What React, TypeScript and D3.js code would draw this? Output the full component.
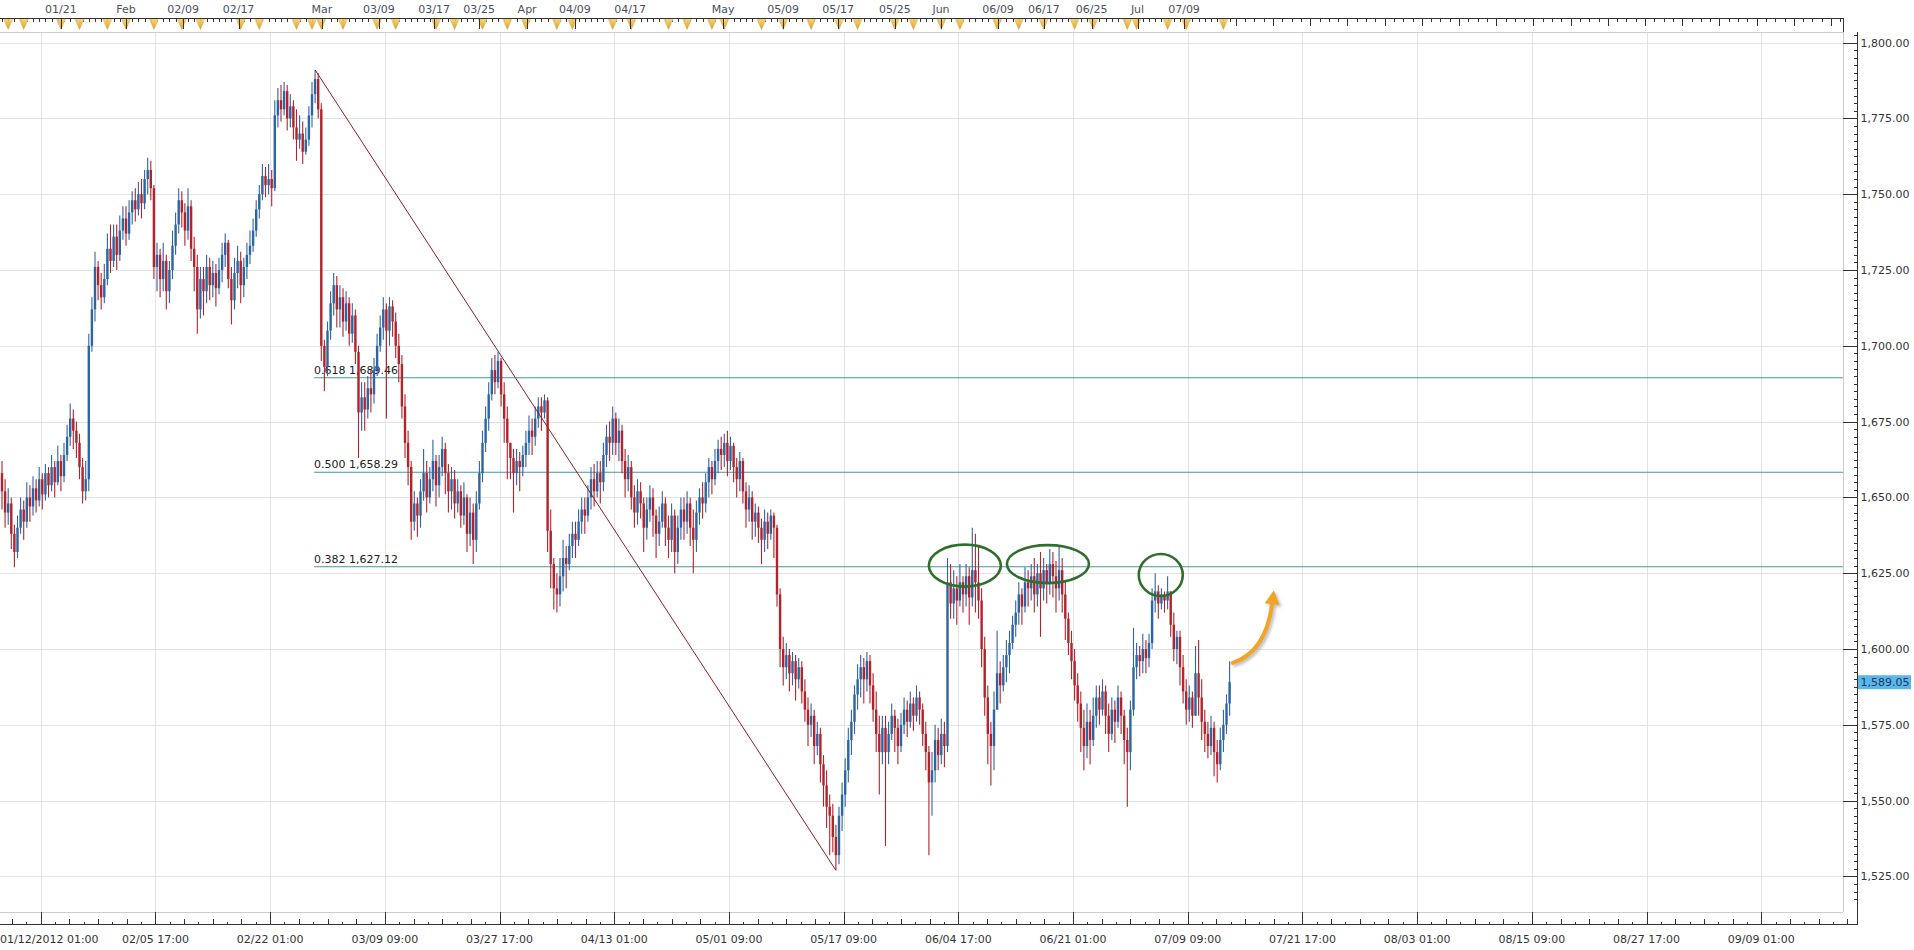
import * as d3 from "d3";

// ---- data (8h bars, open = previous close) ----
const firstOpen = 1658;

const closes = [
  1652, 1645, 1648, 1638, 1632, 1640, 1646, 1642, 1650, 1647,
  1653, 1649, 1656, 1651, 1658, 1654, 1660, 1655, 1662, 1657,
  1664, 1670, 1676, 1672, 1668, 1660, 1652, 1656,
  1700, 1712, 1726,
  1720, 1716, 1722,
  1732, 1728, 1736,
  1730, 1738, 1742, 1737,
  1744, 1748, 1745, 1750, 1747,
  1755, 1758, 1752,
  1726, 1730,
  1722, 1728, 1718, 1725, 1733,
  1740, 1748, 1744,
  1738, 1746, 1732, 1726, 1712, 1722,
  1718, 1726, 1720, 1724, 1719,
  1725, 1730, 1734, 1722, 1715, 1724,
  1728, 1720, 1726, 1730, 1733, 1738,
  1745, 1750, 1756, 1753,
  1755, 1752, 1776,
  1781, 1778, 1784, 1775, 1779,
  1772, 1768, 1770, 1764, 1768,
  1776, 1783, 1788,
  1778,
  1700,
  1693,
  1705, 1714, 1720, 1712,
  1716, 1708, 1714, 1704, 1710,
  1698, 1678, 1683,
  1679, 1686, 1684, 1692,
  1700, 1706, 1712, 1705, 1713,
  1708, 1700, 1694, 1680, 1668,
  1660, 1642, 1648,
  1644, 1652, 1658, 1650,
  1656, 1662, 1654, 1660, 1666, 1658, 1652,
  1656, 1648, 1652, 1644, 1650, 1638,
  1645, 1636, 1648,
  1658, 1668, 1676, 1684,
  1692, 1688, 1695,
  1684, 1676, 1668,
  1663, 1658, 1662, 1660,
  1664, 1668, 1672, 1670, 1676,
  1680, 1678, 1682,
  1639,
  1628, 1620,
  1618, 1624, 1630, 1628,
  1634, 1638, 1636, 1642, 1646, 1644, 1650,
  1656, 1652, 1658, 1655,
  1664, 1670, 1668, 1676,
  1668, 1672, 1662, 1656, 1660, 1650,
  1645, 1652, 1648, 1640, 1646, 1650, 1644, 1638, 1642, 1648, 1640,
  1636, 1644, 1632, 1640, 1646,
  1642, 1648, 1640, 1636, 1645,
  1650, 1648, 1655, 1660, 1656, 1662, 1666, 1664,
  1668, 1662, 1667, 1660,
  1656, 1662, 1652, 1646, 1650, 1642,
  1645, 1640, 1636, 1642, 1638, 1644, 1640,
  1618, 1600, 1594,
  1598, 1592, 1596, 1590, 1594, 1586,
  1580, 1575, 1578, 1568, 1572, 1562,
  1555, 1548, 1545, 1538,
  1532, 1545,
  1552, 1560, 1570, 1576,
  1585, 1590, 1594, 1590, 1596, 1588,
  1580, 1572, 1566, 1574,
  1566, 1572, 1578, 1574, 1568, 1575,
  1580, 1576, 1582, 1578, 1584, 1580, 1572, 1566,
  1556, 1560, 1570, 1565, 1572, 1568,
  1622, 1615,
  1620, 1616, 1622, 1618, 1624, 1617,
  1626, 1622,
  1616, 1600, 1584, 1572,
  1568, 1580,
  1592, 1588, 1594, 1598, 1602,
  1608, 1612, 1618, 1614, 1622, 1620,
  1624, 1618, 1625, 1620, 1626, 1622, 1628, 1624, 1620, 1626, 1618, 1610,
  1602, 1596, 1588, 1582,
  1574, 1568, 1576, 1570, 1578,
  1584, 1580, 1586, 1578, 1572, 1580, 1576, 1584, 1578, 1570,
  1566, 1580,
  1594, 1598, 1596, 1600, 1597, 1602,
  1616, 1619, 1615, 1618, 1616, 1619,
  1608, 1600, 1604,
  1594, 1586, 1580, 1584, 1578,
  1592, 1584, 1576,
  1572, 1568, 1574, 1566, 1562,
  1570, 1575, 1582, 1589.05,
];

const highs = [
  1662, 1656, 1653, 1650, 1641, 1644, 1650, 1649, 1655, 1654,
  1657, 1656, 1660, 1658, 1661, 1660, 1664, 1662, 1667, 1664,
  1668, 1674, 1681, 1679, 1675, 1671, 1663, 1662,
  1704, 1716, 1731,
  1728, 1724, 1727,
  1737, 1740, 1740,
  1740, 1743, 1746, 1746,
  1748, 1751, 1752, 1754, 1755,
  1758, 1762, 1761,
  1753, 1734,
  1732, 1734, 1730, 1728, 1738,
  1744, 1752, 1751,
  1747, 1752, 1748, 1736, 1730, 1726,
  1726, 1730, 1729, 1728, 1727,
  1729, 1734, 1737, 1735, 1726, 1729,
  1733, 1731, 1729, 1734, 1738, 1742,
  1748, 1753, 1760, 1759,
  1760, 1758, 1781,
  1785, 1786, 1787, 1786, 1783,
  1781, 1778, 1776, 1774, 1772,
  1779, 1787, 1791,
  1790,
  1780,
  1702,
  1708, 1718, 1724, 1723,
  1720, 1719, 1718, 1716, 1714,
  1712, 1700, 1688,
  1688, 1690, 1692, 1696,
  1704, 1710, 1716, 1714, 1716,
  1715, 1711, 1704, 1697, 1684,
  1672, 1662, 1652,
  1650, 1656, 1666, 1662,
  1660, 1669, 1664, 1664, 1670, 1668, 1661,
  1660, 1659, 1656, 1654, 1655, 1651,
  1650, 1648, 1652,
  1662, 1672, 1680, 1688,
  1696, 1697, 1698,
  1696, 1688, 1680,
  1668, 1666, 1666, 1665,
  1667, 1672, 1677, 1676, 1680,
  1683, 1683, 1684,
  1683,
  1646, 1630,
  1625, 1630, 1636, 1634,
  1638, 1642, 1642, 1646, 1650, 1650, 1654,
  1660, 1661, 1662, 1662,
  1668, 1674, 1675, 1680,
  1678, 1676, 1674, 1666, 1664, 1662,
  1654, 1656, 1655, 1650, 1650, 1654, 1653, 1646, 1647, 1652, 1650,
  1644, 1648, 1646, 1644, 1650,
  1650, 1652, 1650, 1646, 1649,
  1653, 1655, 1658, 1663, 1662, 1666, 1669, 1670,
  1671, 1672, 1670, 1668,
  1663, 1665, 1663, 1655, 1654, 1652,
  1648, 1647, 1643, 1646, 1645, 1646, 1645,
  1641, 1620, 1604,
  1602, 1600, 1599, 1598, 1597, 1596,
  1590, 1584, 1582, 1580, 1576, 1574,
  1565, 1560, 1552, 1549,
  1542, 1548,
  1556, 1564, 1574, 1580,
  1588, 1595, 1598, 1597, 1599, 1598,
  1592, 1586, 1578, 1578,
  1578, 1576, 1582, 1580, 1577, 1579,
  1584, 1583, 1586, 1584, 1588, 1586, 1582, 1576,
  1568, 1566, 1575, 1574, 1577, 1576,
  1630, 1628,
  1626, 1624, 1628, 1624, 1628, 1627,
  1640, 1638,
  1634, 1620, 1604, 1588,
  1576, 1586,
  1606, 1596, 1598, 1603, 1606,
  1611, 1616, 1622, 1620, 1627, 1626,
  1628, 1630, 1628, 1632, 1630, 1628, 1633, 1632, 1629, 1634, 1630, 1622,
  1612, 1606, 1600, 1592,
  1586, 1580, 1582, 1580, 1584,
  1588, 1588, 1590, 1588, 1582, 1584, 1583, 1588, 1586, 1580,
  1574, 1583,
  1607, 1602, 1601, 1605, 1603, 1605,
  1620, 1625, 1621, 1620, 1619, 1624,
  1619, 1612, 1606,
  1606, 1598, 1590, 1588, 1586,
  1601, 1603, 1590,
  1580, 1576, 1578, 1576, 1570,
  1574, 1580, 1585, 1596,
];

const lows = [
  1646, 1640, 1641, 1633, 1627, 1630, 1638, 1636, 1640, 1642,
  1644, 1645, 1647, 1646, 1649, 1650, 1652, 1650, 1654, 1652,
  1655, 1662, 1667, 1666, 1663, 1656, 1648, 1649,
  1652, 1698, 1708,
  1715, 1712, 1714,
  1720, 1724, 1726,
  1725, 1728, 1735, 1733,
  1735, 1740, 1741, 1743, 1742,
  1745, 1750, 1748,
  1722, 1718,
  1716, 1718, 1712, 1714, 1722,
  1730, 1737, 1739,
  1733, 1735, 1728, 1718, 1704, 1709,
  1710, 1714, 1715, 1716, 1713,
  1717, 1721, 1726, 1719, 1707, 1712,
  1719, 1714, 1716, 1722, 1727, 1731,
  1736, 1742, 1748, 1749,
  1750, 1746, 1751,
  1772, 1774, 1776, 1771, 1772,
  1768, 1761, 1765, 1760, 1763,
  1766, 1772, 1780,
  1775,
  1695,
  1685,
  1690, 1702, 1710, 1706,
  1706, 1703, 1705, 1700, 1701,
  1694, 1663, 1672,
  1672, 1676, 1678, 1681,
  1690, 1698, 1702, 1676, 1700,
  1703, 1696, 1688, 1676, 1663,
  1654, 1636, 1639,
  1637, 1640, 1649, 1645,
  1648, 1652, 1647, 1650, 1657, 1651, 1645,
  1646, 1643, 1645, 1640, 1641, 1632,
  1634, 1628, 1632,
  1646, 1655, 1665, 1672,
  1682, 1684, 1686,
  1680, 1668, 1656,
  1656, 1645, 1654, 1652,
  1657, 1660, 1664, 1664, 1667,
  1673, 1672, 1676,
  1632,
  1620, 1613,
  1612, 1614, 1619, 1620,
  1626, 1630, 1630, 1634, 1638, 1638, 1642,
  1646, 1647, 1650, 1648,
  1652, 1660, 1662, 1664,
  1664, 1662, 1658, 1650, 1652, 1646,
  1640, 1641, 1643, 1632, 1636, 1642, 1637, 1630, 1634, 1640, 1634,
  1630, 1632, 1625, 1628, 1636,
  1636, 1638, 1634, 1625, 1632,
  1641, 1643, 1645, 1650, 1651, 1654, 1658, 1659,
  1660, 1657, 1659, 1655,
  1650, 1652, 1648, 1640, 1642, 1636,
  1637, 1635, 1628, 1632, 1633, 1636, 1630,
  1614, 1594, 1588,
  1590, 1586, 1588, 1583, 1587, 1582,
  1576, 1568, 1571, 1562, 1565, 1556,
  1548, 1541, 1532, 1533,
  1527, 1529,
  1540, 1548, 1556, 1565,
  1572, 1580, 1584, 1582, 1586, 1582,
  1576, 1566, 1552, 1562,
  1535, 1562, 1570, 1566, 1562, 1566,
  1572, 1571, 1574, 1573, 1576, 1575, 1568, 1560,
  1532, 1545, 1556, 1560, 1562, 1561,
  1566, 1610,
  1610, 1608, 1614, 1612, 1614, 1608,
  1614, 1612,
  1610, 1594, 1578, 1562,
  1555, 1560,
  1583, 1582, 1586, 1589, 1592,
  1600, 1604, 1608, 1608, 1612, 1614,
  1616, 1612, 1614, 1604, 1616, 1615, 1618, 1617, 1612, 1616, 1612, 1603,
  1598, 1590, 1583, 1576,
  1566, 1560, 1564, 1562, 1568,
  1574, 1575, 1578, 1572, 1566, 1570, 1569, 1574, 1572, 1562,
  1548, 1560,
  1578, 1590, 1591, 1592, 1592, 1594,
  1600, 1612, 1610, 1613, 1612, 1613,
  1604, 1596, 1595,
  1588, 1582, 1575, 1576, 1574,
  1580, 1578, 1570,
  1566, 1564, 1565, 1558, 1556,
  1560, 1566, 1572, 1578,
];

const fibRatios = ["0.618", "0.500", "0.382"];
const fibLevels = [1689.46, 1658.29, 1627.12];

const priceTicks = [1525, 1550, 1575, 1600, 1625, 1650, 1675, 1700, 1725, 1750, 1775, 1800];

const bottomLabels = [
  "01/12/2012 01:00", "02/05 17:00", "02/22 01:00", "03/09 09:00",
  "03/27 17:00", "04/13 01:00", "05/01 09:00", "05/17 09:00",
  "06/04 17:00", "06/21 01:00", "07/09 09:00", "07/21 17:00",
  "08/03 01:00", "08/15 09:00", "08/27 17:00", "09/09 01:00",
];

const topLabels = [
  "01/21", "Feb", "02/09", "02/17", "Mar", "03/09", "03/17", "03/25", "Apr",
  "04/09", "04/17", "May", "05/09", "05/17", "05/25", "Jun", "06/09", "06/17",
  "06/25", "Jul", "07/09",
];
const topLabelBars = [
  19, 40, 58.4, 76.3, 103.2, 121.6, 139.4, 153.9, 169.4,
  184.8, 202.6, 232.6, 252, 269.7, 288, 302.9, 321.3, 336.1,
  351.5, 366.3, 381.3,
];

// event flags on the top strip (bar positions)
const eventBars = [
  2, 7, 19, 25, 34, 40, 49, 58, 64, 77, 83, 95, 100, 103, 110, 121, 127, 140,
  146, 155, 163, 169, 179, 184, 197, 203, 215, 221, 229, 233, 245, 252, 261,
  270, 276, 288, 294, 303, 309, 321, 328, 336, 346, 352, 363, 366, 376, 382, 394,
];

const lastPrice = 1589.05;

// hand drawn marks
const ringBars = [310.6, 337.4, 373.8];
const ringPrices = [1627.5, 1628, 1624.4];
const ringRx = [36, 41, 22];
const ringRy = [21, 19, 21];

const arrowBars = [397, 407.7, 409.7];
const arrowPrices = [1595.4, 1599, 1614.8];

// ---- layout ----
const W = 1914;
const H = 950;
const SLOTS = 594;
const BAR_STEP = 3.1;
const GRID_FIRST = 12.5;
const GRID_EVERY = 37;
const plotRight = 1843;
const plotTop = 32;
const plotBottom = 912;
const stripTop = 18;
const axisY = 924.5;
const axisX = 1857.5;

const BLUE = "#2d65a3";
const RED = "#b3232b";
const FONT = "'DejaVu Sans', Verdana, sans-serif";

export default function App() {
  const x = d3.scaleLinear().domain([0, SLOTS]).range([2, 2 + SLOTS * BAR_STEP]);
  const y = d3.scaleLinear().domain([1525, 1800]).range([876.4, 42.6]);
  const fmt = d3.format(",.2f");

  const gridBars = bottomLabels.map((_, k) => GRID_FIRST + GRID_EVERY * k);
  const minorStep = GRID_EVERY / 8;
  const bottomMinor = d3
    .range(GRID_FIRST - GRID_EVERY, GRID_FIRST + GRID_EVERY * 16, minorStep)
    .map((b, j) => ({ b, j: ((j % 8) + 8) % 8 }))
    .filter((d) => d.j !== 0 && x(d.b) > 0 && x(d.b) < axisX);

  const priceMinor = d3.range(1517.5, 1812.5, 2.5).filter((p) => y(p) > plotTop + 2 && y(p) < axisY - 2);

  const stripTicks = [
    ...d3.range(0, 398, 2),
    ...d3.range(398, SLOTS, 3),
  ];

  const iHigh = d3.maxIndex(highs);
  const iLow = d3.minIndex(lows);

  const n = Math.min(closes.length, highs.length, lows.length);
  const bars = d3.range(n).map((i) => {
    const o = i === 0 ? firstOpen : closes[i - 1];
    const c = closes[i];
    const hi = Math.max(highs[i], o, c);
    const lo = Math.min(lows[i], o, c);
    const col = c >= o ? BLUE : RED;
    const cx = x(i);
    const yt = y(Math.max(o, c));
    const yb = y(Math.min(o, c));
    return (
      <g key={i}>
        <line x1={cx} x2={cx} y1={y(hi)} y2={y(lo)} stroke={col} strokeWidth={1.1} />
        <rect x={cx - 1.2} y={yt} width={2.4} height={Math.max(1.2, yb - yt)} fill={col} />
      </g>
    );
  });

  // orange arrow
  const a0 = [x(arrowBars[0]), y(arrowPrices[0])];
  const a1 = [x(arrowBars[1]), y(arrowPrices[1])];
  const a2 = [x(arrowBars[2]), y(arrowPrices[2])];
  const dx = a2[0] - a1[0];
  const dy = a2[1] - a1[1];
  const len = Math.hypot(dx, dy);
  const ux = dx / len;
  const uy = dy / len;
  const tip = [a2[0] + ux * 14, a2[1] + uy * 14];
  const headL = [a2[0] - uy * 7.5, a2[1] + ux * 7.5];
  const headR = [a2[0] + uy * 7.5, a2[1] - ux * 7.5];

  const fibX = x(iHigh) - 1;

  return (
    <svg
      width={W}
      height={H}
      style={{ position: "absolute", left: 0, top: 0, background: "#fff", display: "block" }}
      fontFamily={FONT}
    >
      <defs>
        <linearGradient id="flag" x1="0" x2="0" y1="0" y2="1">
          <stop offset="0" stopColor="#f3cf6e" />
          <stop offset="1" stopColor="#d8951a" />
        </linearGradient>
        <filter id="shadow" x="-30%" y="-30%" width="160%" height="160%">
          <feDropShadow dx="2" dy="2" stdDeviation="1.5" floodColor="#888" floodOpacity="0.55" />
        </filter>
      </defs>
      <rect x={0} y={0} width={W} height={H} fill="#fff" />

      {/* grid */}
      <g stroke="#e3e3e3" strokeWidth={1} shapeRendering="crispEdges">
        {priceTicks.map((p) => (
          <line key={p} x1={0} x2={plotRight} y1={Math.round(y(p)) + 0.5} y2={Math.round(y(p)) + 0.5} />
        ))}
        {gridBars.map((b) => (
          <line key={b} x1={Math.round(x(b)) + 0.5} x2={Math.round(x(b)) + 0.5} y1={plotTop} y2={plotBottom} />
        ))}
      </g>

      {/* plot frame */}
      <g stroke="#cccccc" strokeWidth={1} shapeRendering="crispEdges" fill="none">
        <line x1={0} x2={plotRight} y1={plotTop + 0.5} y2={plotTop + 0.5} />
        <line x1={plotRight + 0.5} x2={plotRight + 0.5} y1={plotTop} y2={plotBottom} />
        <line x1={0} x2={plotRight} y1={plotBottom + 0.5} y2={plotBottom + 0.5} />
      </g>

      {/* fibonacci levels */}
      {fibLevels.map((v, k) => (
        <g key={v}>
          <line x1={fibX} x2={plotRight} y1={y(v)} y2={y(v)} stroke="#3e9b9b" strokeWidth={1.2} />
          <text x={fibX} y={y(v) - 4} fontSize={11} fill="#222">
            {fibRatios[k]} {fmt(v)}
          </text>
        </g>
      ))}

      {/* price bars */}
      <g>{bars}</g>

      {/* trend line high -> low */}
      <line
        x1={x(iHigh)}
        y1={y(highs[iHigh])}
        x2={x(iLow)}
        y2={y(lows[iLow])}
        stroke="#8e1d1d"
        strokeWidth={1}
      />

      {/* rings */}
      {ringBars.map((b, k) => (
        <ellipse
          key={b}
          cx={x(b)}
          cy={y(ringPrices[k])}
          rx={ringRx[k]}
          ry={ringRy[k]}
          fill="none"
          stroke="#2f6f2c"
          strokeWidth={2.6}
        />
      ))}

      {/* arrow */}
      <g filter="url(#shadow)">
        <path
          d={`M${a0[0]},${a0[1]} Q${a1[0]},${a1[1]} ${a2[0]},${a2[1]}`}
          fill="none"
          stroke="#f2a425"
          strokeWidth={4}
          strokeLinecap="round"
        />
        <polygon
          points={`${tip[0]},${tip[1]} ${headL[0]},${headL[1]} ${headR[0]},${headR[1]}`}
          fill="#f2a425"
        />
      </g>

      {/* top strip */}
      <g shapeRendering="crispEdges">
        <line x1={0} x2={plotRight + 1} y1={stripTop + 0.5} y2={stripTop + 0.5} stroke="#333" />
        <line x1={plotRight + 0.5} x2={plotRight + 0.5} y1={stripTop} y2={plotTop} stroke="#333" />
        {stripTicks.map((b) => (
          <line
            key={b}
            x1={Math.round(x(b)) + 0.5}
            x2={Math.round(x(b)) + 0.5}
            y1={stripTop}
            y2={b >= 398 && (b - 398) % 12 === 0 ? stripTop + 8 : stripTop + 4}
            stroke="#333"
          />
        ))}
      </g>
      {eventBars.map((b) => {
        const cx = x(b);
        return (
          <polygon
            key={b}
            points={`${cx - 5},${stripTop + 1} ${cx + 5},${stripTop + 1} ${cx},${stripTop + 12}`}
            fill="url(#flag)"
            opacity={0.92}
          />
        );
      })}
      <g shapeRendering="crispEdges">
        {topLabelBars.map((b) => (
          <line
            key={b}
            x1={Math.round(x(b)) + 0.5}
            x2={Math.round(x(b)) + 0.5}
            y1={stripTop}
            y2={stripTop + 11}
            stroke="#333"
          />
        ))}
      </g>
      {topLabels.map((t, k) => (
        <text key={t} x={x(topLabelBars[k])} y={13} fontSize={11} fill="#4b4f5e" textAnchor="middle">
          {t}
        </text>
      ))}

      {/* bottom axis */}
      <g shapeRendering="crispEdges" stroke="#333">
        <line x1={0} x2={axisX + 0.5} y1={axisY} y2={axisY} />
        {gridBars.map((b) => (
          <line key={b} x1={Math.round(x(b)) + 0.5} x2={Math.round(x(b)) + 0.5} y1={plotBottom} y2={axisY} />
        ))}
        {bottomMinor.map((d) => (
          <line
            key={d.b}
            x1={Math.round(x(d.b)) + 0.5}
            x2={Math.round(x(d.b)) + 0.5}
            y1={axisY - (d.j % 2 === 0 ? 6 : 3)}
            y2={axisY}
          />
        ))}
      </g>
      {bottomLabels.map((t, k) => (
        <text
          key={t}
          x={k === 0 ? 0 : x(gridBars[k])}
          y={943}
          fontSize={11}
          fill="#333"
          textAnchor={k === 0 ? "start" : "middle"}
        >
          {t}
        </text>
      ))}

      {/* right axis */}
      <g shapeRendering="crispEdges" stroke="#333">
        <line x1={axisX} x2={axisX} y1={plotTop} y2={axisY} />
        {priceMinor.map((p) => (
          <line key={p} x1={axisX - 4} x2={axisX} y1={Math.round(y(p)) + 0.5} y2={Math.round(y(p)) + 0.5} />
        ))}
        {priceTicks.map((p) => (
          <line key={p} x1={plotRight} x2={axisX} y1={Math.round(y(p)) + 0.5} y2={Math.round(y(p)) + 0.5} />
        ))}
      </g>
      {priceTicks.map((p) => (
        <text key={p} x={axisX + 3} y={y(p) + 4} fontSize={11} fill="#333">
          {fmt(p)}
        </text>
      ))}

      {/* last price tag */}
      <rect x={axisX + 0.5} y={y(lastPrice) - 7} width={53} height={14} fill="#5bb7ea" />
      <text x={axisX + 3} y={y(lastPrice) + 4} fontSize={11} fill="#173a66">
        {fmt(lastPrice)}
      </text>
    </svg>
  );
}
